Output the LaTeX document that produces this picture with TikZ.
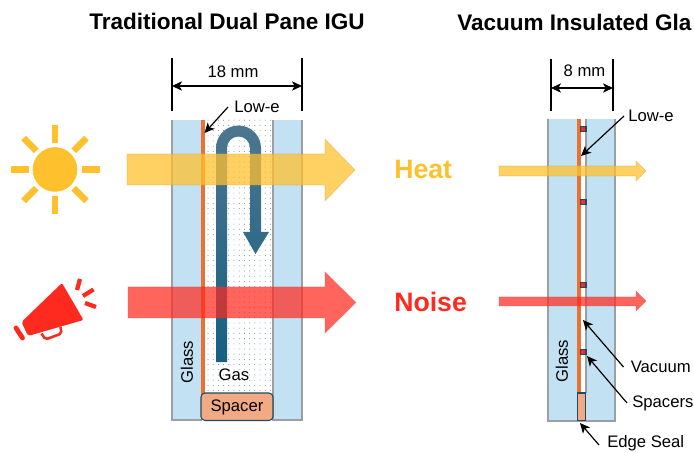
\documentclass[tikz,border=0pt]{standalone}
\usepackage{fontspec}
\setmainfont{Liberation Sans}
\usetikzlibrary{patterns.meta,arrows.meta}
\definecolor{glassblue}{HTML}{C2E2F3}
\definecolor{glassedge}{HTML}{9A9FA3}
\definecolor{lowecol}{HTML}{E97132}
\definecolor{sealcol}{HTML}{F2AA84}
\definecolor{darkedge}{HTML}{1F4A5F}
\definecolor{tubedark}{HTML}{156082}
\definecolor{tubelight}{HTML}{4D7690}
\definecolor{heatcol}{HTML}{FFC02E}
\definecolor{noisecol}{HTML}{FF2A1F}
\definecolor{dotcol}{HTML}{4A7FA5}
\tikzset{
  glasspane/.style={fill=glassblue, draw=none},
  paneedge/.style={draw=glassedge, line width=1.1pt},
  heatarrow/.style={fill=heatcol, fill opacity=0.75, draw=heatcol!60!gray, draw opacity=0.4, line width=0.5pt},
  noisearrow/.style={fill=noisecol, fill opacity=0.72, draw=noisecol!60!gray, draw opacity=0.3, line width=0.5pt},
  label/.style={font=\fontsize{12.5}{14}\selectfont, inner sep=0pt},
  dimline/.style={black, line width=0.9pt},
  pointer/.style={->, black, line width=0.9pt},
  ray/.style={line width=4.8pt},
}
\begin{document}
\begin{tikzpicture}[x=0.75pt, y=-0.75pt, >={Stealth[length=7.5pt, width=7pt, inset=2pt]}]
\useasboundingbox (0,0) rectangle (694,453);

% titles
\node[font=\bfseries\fontsize{16.9}{20}\selectfont, inner sep=0pt] (titleleft) at (227,21) {Traditional Dual Pane IGU};
\node[font=\bfseries\fontsize{16.9}{20}\selectfont, inner sep=0pt, anchor=west] (titleright) at (457,22) {Vacuum Insulated Gla};

% left unit
\fill[glasspane] (172,120) rectangle (202,420);
\fill[glasspane] (273,120) rectangle (302,420);
\fill[pattern={Dots[distance=3.9pt, radius=0.36pt]}, pattern color=dotcol] (204,120) rectangle (273,394);
\draw[paneedge] (172,120) -- (172,420) -- (202,420);
\draw[paneedge] (273,120) -- (273,420) -- (302,420) -- (302,120);
\fill[lowecol] (201,120) rectangle (204.5,396);
\draw[fill=sealcol, draw=darkedge, line width=0.8pt, rounded corners=3pt] (201,393) rectangle (273,420.5);
\node[label] (spacerleft) at (237,407) {Spacer};
\node[label] (gasleft) at (234,375) {Gas};
\node[label, rotate=90] (glassleft) at (187,362) {Glass};

% convection
\shade[top color=tubelight, middle color=tubedark, bottom color=tubedark]
  (216,362) -- (216,148) arc[start angle=180, end angle=360, radius=22.5]
  -- (261,232) -- (269,232) -- (255.5,254) -- (243,232) -- (250,232)
  -- (250,148) arc[start angle=0, end angle=-180, radius=11.5] -- (227,362) -- cycle;

% width left
\coordinate (dimlefta) at (172,58);
\coordinate (dimleftb) at (172,111);
\coordinate (dimrighta) at (302,58);
\coordinate (dimrightb) at (302,111);
\coordinate (spanlefta) at (172,86);
\coordinate (spanleftb) at (302,86);
\draw[dimline] (dimlefta) -- (dimleftb);
\draw[dimline] (dimrighta) -- (dimrightb);
\draw[dimline, <->] (spanlefta) -- (spanleftb);
\node[label] (widthleft) at (233,72) {18 mm};
\node[label] (loweleft) at (257,106.5) {Low-e};
\coordinate (lowelefttip) at (204.5,133);
\coordinate (loweleftend) at (228,107);
\draw[pointer] (loweleftend) -- (lowelefttip);

% right unit
\fill[glasspane] (548,119) rectangle (577,421);
\fill[glasspane] (586,119) rectangle (615,421);
\draw[paneedge] (548,119) -- (548,421) -- (615,421) -- (615,119);
\draw[paneedge] (577.5,119) -- (577.5,393);
\draw[paneedge] (586,119) -- (586,393);
\fill[lowecol] (577,119) rectangle (580.5,392);
\foreach \y in {129,202,285,352} {
  \draw[fill=noisecol, draw=darkedge, line width=0.8pt] (580.5,\y-2.2) rectangle (586,\y+2.2);
}
\draw[fill=sealcol, draw=darkedge, line width=0.8pt] (577.5,393) rectangle (585.5,420.5);
\node[label, rotate=90] (glassright) at (562,361) {Glass};

% width right
\coordinate (dimrlefta) at (551,59);
\coordinate (dimrleftb) at (551,111);
\coordinate (dimrrighta) at (613,59);
\coordinate (dimrrightb) at (613,111);
\coordinate (spanrighta) at (551,88);
\coordinate (spanrightb) at (613,88);
\draw[dimline] (dimrlefta) -- (dimrleftb);
\draw[dimline] (dimrrighta) -- (dimrrightb);
\draw[dimline, <->] (spanrighta) -- (spanrightb);
\node[label] (widthright) at (584.5,71) {8 mm};
\node[label, anchor=west] (loweright) at (628,116) {Low-e};
\node[label, anchor=west] (vacuumlabel) at (630.5,367) {Vacuum};
\node[label, anchor=west] (spacerslabel) at (632,403) {Spacers};
\node[label, anchor=west] (seallabel) at (607,443) {Edge Seal};
\coordinate (lowerighttip) at (581,156);
\coordinate (vacuumtip) at (583,320);
\coordinate (spacertip) at (587,356);
\coordinate (sealtip) at (580,423);
\draw[pointer] (loweright.west) ++(-4,0) -- (lowerighttip);
\draw[pointer] (vacuumlabel.west) ++(-7,0) -- (vacuumtip);
\draw[pointer] (spacerslabel.west) ++(-5,0) -- (spacertip);
\draw[pointer] (seallabel.west) ++(-8,2) -- (sealtip);

% arrows
\draw[heatarrow] (127,154) -- (325,154) -- (325,139) -- (355,170) -- (325,201) -- (325,185) -- (127,185) -- cycle;
\draw[noisearrow] (128,287) -- (325,287) -- (325,272) -- (356,302.5) -- (325,333) -- (325,318) -- (128,318) -- cycle;
\draw[heatarrow] (499,166) -- (636,166) -- (636,161) -- (646,171) -- (636,181) -- (636,176) -- (499,176) -- cycle;
\draw[noisearrow] (499,297) -- (636,297) -- (636,291) -- (646,301) -- (636,311) -- (636,306) -- (499,306) -- cycle;

\node[font=\bfseries\fontsize{20}{24}\selectfont, text=heatcol, inner sep=0pt, anchor=west] (heatlabel) at (394,169.5) {Heat};
\node[font=\bfseries\fontsize{20}{24}\selectfont, text=noisecol, inner sep=0pt, anchor=west] (noiselabel) at (394,301.5) {Noise};

% sun
\fill[heatcol] (55,169.5) circle (22.3);
\foreach \a in {0,45,...,315} {
  \draw[heatcol, ray] (55,169.5) ++(\a:26.5) -- ++(\a:18);
}

% megaphone
\fill[noisecol, rounded corners=1.5pt] (62,283) -- (83.5,320) -- (28,336) -- (21.5,322) -- cycle;
\draw[noisecol, line width=3.6pt, line cap=round] (16,328) -- (22.5,338);
\draw[noisecol, line width=1.9pt, rounded corners=1.5pt] (41.5,333.5) -- (45.5,339.5) -- (61.5,333.5) -- (60.5,327);
\draw[noisecol, line width=3.2pt] (80,279) -- (77,290);
\draw[noisecol, line width=3.2pt] (93.5,289.5) -- (83,296);
\draw[noisecol, line width=3.2pt] (85,303) -- (96,307);
\end{tikzpicture}
\end{document}
